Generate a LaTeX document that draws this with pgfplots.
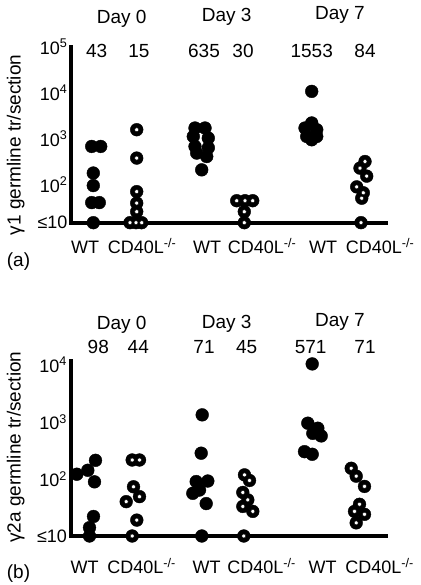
\documentclass[border=0pt]{standalone}
\usepackage{fontspec}
\setmainfont{Liberation Sans}
\usepackage{pgfplots}
\usepackage{pgfplotstable}
\pgfplotsset{compat=1.18}
\newcommand\ff{\fontsize{19}{22}\selectfont}
\newcommand\tf{\fontsize{18}{20}\selectfont}
\pgfplotsset{
  myfilled/.style={only marks, mark=*, mark size=6.4pt, mark options={fill=black, draw=black, line width=0.4pt}},
  myhole/.style={only marks, mark=*, mark size=2pt, mark options={fill=white, draw=none}},
}
% panel (a): x = horizontal position, y = transcripts/section (<=10 plotted at floor)
\pgfplotstableread{
x y
136.7 1570
136.7 380
136.7 71
136.7 40
136.7 26
130 15
136 15
141.7 15
}\aCDzero
\pgfplotstableread{
x y
236.7 45
252.7 45
245 45
244.3 26
244.3 15
}\aCDthree
\pgfplotstableread{
x y
365 320
360 230
366.7 154
356.7 90
363.3 67
361.7 51
361 15
}\aCDseven
\pgfplotstableread{
x y
132.7 215
140 215
134 73
126.7 40
140 49
137.3 19
132.7 10
}\bCDzero
\pgfplotstableread{
x y
245 118
250 94
243.3 58
248.3 43
243.3 33
253.3 27
244.3 10
}\bCDthree
\pgfplotstableread{
x y
351.7 154
356.7 112
365 74
360 36
355 27
365 24
356.7 17
}\bCDseven
\begin{document}
\begin{tikzpicture}
\path[use as bounding box] (0,0) rectangle (420pt,585pt);
% ---------- panel (a)
\begin{axis}[ymode=log, scale only axis, width=315pt, height=176pt,
  at={(71pt,362.3pt)}, anchor=south west,
  xmin=71, xmax=386, ymin=15, ymax=100000,
  axis x line*=bottom, axis y line*=left,
  axis line style={line width=4pt, line cap=rect},
  major tick length=0pt,
  xtick={85,142,207,262,323,380},
  xticklabels={WT,CD40L\textsuperscript{-/-},WT,CD40L\textsuperscript{-/-},WT,CD40L\textsuperscript{-/-}},
  tick label style={font=\tf},
  yticklabel style={anchor=east},
  clip=false,
  ytick={15,100,1000,10000,100000},
  yticklabels={≤10,10\textsuperscript{2},10\textsuperscript{3},10\textsuperscript{4},10\textsuperscript{5}},
  xticklabel style={anchor=base, yshift=-31pt}]
\addplot[myfilled] coordinates {(91.7,680) (100.7,680) (93.3,180) (93.3,96) (91.7,41) (99.3,41) (93.3,15)};
\addplot[myfilled] coordinates {(195,1710) (205,1710) (193.3,1120) (208.3,1035) (195,680) (208.3,637) (196.7,488) (206.7,411) (201.7,211)};
\addplot[myfilled] coordinates {(311.7,10700) (311.7,2200) (305,1710) (316.7,1570) (306.7,1120) (316.7,1120) (311.7,950)};
\addplot[myfilled] table {\aCDzero};
\addplot[myhole] table {\aCDzero};
\addplot[myfilled] table {\aCDthree};
\addplot[myhole] table {\aCDthree};
\addplot[myfilled] table {\aCDseven};
\addplot[myhole] table {\aCDseven};
\end{axis}
% ---------- panel (b)
\begin{axis}[ymode=log, scale only axis, width=315pt, height=175pt,
  at={(70.5pt,49pt)}, anchor=south west,
  xmin=71, xmax=386, ymin=10, ymax=11700,
  axis x line*=bottom, axis y line*=left,
  axis line style={line width=4pt, line cap=rect},
  major tick length=0pt,
  xtick={85,142,207,262,323,380},
  xticklabels={WT,CD40L\textsuperscript{-/-},WT,CD40L\textsuperscript{-/-},WT,CD40L\textsuperscript{-/-}},
  tick label style={font=\tf},
  yticklabel style={anchor=east},
  clip=false,
  ytick={10,100,1000,10000},
  yticklabels={≤10,10\textsuperscript{2},10\textsuperscript{3},10\textsuperscript{4}},
  xticklabel style={anchor=base, yshift=-37.3pt}]
\addplot[myfilled] coordinates {(77.3,121) (88.3,142) (96,212) (95,89) (94,22) (90,14) (90,10)};
\addplot[myfilled] coordinates {(202.7,1330) (201.7,283) (196.7,90) (208.3,92) (200,64) (193.3,56) (206.7,37) (202.3,10)};
\addplot[myfilled] coordinates {(312.7,10400) (308.3,950) (318.3,775) (313.3,630) (321.7,568) (305,301) (312.7,271)};
\addplot[myfilled] table {\bCDzero};
\addplot[myhole] table {\bCDzero};
\addplot[myfilled] table {\bCDthree};
\addplot[myhole] table {\bCDthree};
\addplot[myfilled] table {\bCDseven};
\addplot[myhole] table {\bCDseven};
\end{axis}
% ---------- texts
\node[anchor=base, font=\ff] at (121.7pt,561.7pt) {Day 0};
\node[anchor=base, font=\ff] at (226.7pt,563.3pt) {Day 3};
\node[anchor=base, font=\ff] at (340pt,565pt) {Day 7};
\node[anchor=base, font=\ff] at (96.7pt,527.7pt) {43};
\node[anchor=base, font=\ff] at (139pt,527.7pt) {15};
\node[anchor=base, font=\ff] at (204pt,527.7pt) {635};
\node[anchor=base, font=\ff] at (243pt,527.7pt) {30};
\node[anchor=base, font=\ff] at (311.7pt,527.7pt) {1553};
\node[anchor=base, font=\ff] at (365pt,527.7pt) {84};
\node[anchor=base, font=\ff] at (121.7pt,255pt) {Day 0};
\node[anchor=base, font=\ff] at (226.7pt,256.7pt) {Day 3};
\node[anchor=base, font=\ff] at (340pt,258.3pt) {Day 7};
\node[anchor=base, font=\ff] at (98.3pt,231.7pt) {98};
\node[anchor=base, font=\ff] at (138.3pt,231.7pt) {44};
\node[anchor=base, font=\ff] at (204pt,231.7pt) {71};
\node[anchor=base, font=\ff] at (246.7pt,231.7pt) {45};
\node[anchor=base, font=\ff] at (310.7pt,231.7pt) {571};
\node[anchor=base, font=\ff] at (365pt,231.7pt) {71};
\node[anchor=base west, font=\ff, inner sep=0pt] at (6.7pt,318.3pt) {(a)};
\node[anchor=base west, font=\ff, inner sep=0pt] at (6.7pt,6.7pt) {(b)};
\node[rotate=90, font=\ff] at (15.8pt,440pt) {γ1 germline tr/section};
\node[rotate=90, font=\ff] at (15.8pt,138pt) {γ2a germline tr/section};
\end{tikzpicture}
\end{document}
